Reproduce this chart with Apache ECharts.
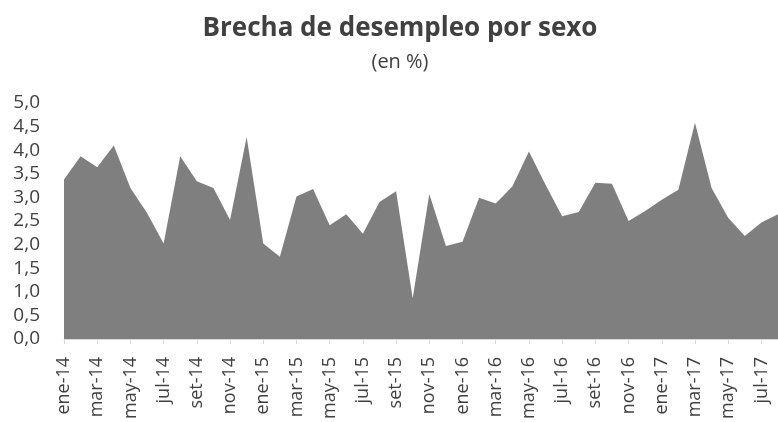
<!DOCTYPE html>
<html>
<head>
<meta charset="utf-8">
<script src="https://cdn.jsdelivr.net/npm/echarts@6/dist/echarts.min.js"></script>
<style>
  html, body { margin: 0; padding: 0; background: #fff; }
  #chart { width: 778px; height: 422px; }
</style>
</head>
<body>
<div id="chart"></div>
<script>
// meses ene-14 .. ago-17
const months = [
  'ene-14', 'feb-14', 'mar-14', 'abr-14', 'may-14', 'jun-14', 'jul-14', 'ago-14', 'set-14', 'oct-14', 'nov-14', 'dic-14',
  'ene-15', 'feb-15', 'mar-15', 'abr-15', 'may-15', 'jun-15', 'jul-15', 'ago-15', 'set-15', 'oct-15', 'nov-15', 'dic-15',
  'ene-16', 'feb-16', 'mar-16', 'abr-16', 'may-16', 'jun-16', 'jul-16', 'ago-16', 'set-16', 'oct-16', 'nov-16', 'dic-16',
  'ene-17', 'feb-17', 'mar-17', 'abr-17', 'may-17', 'jun-17', 'jul-17', 'ago-17'
];

// brecha de desempleo (en %)
const gap = [
  3.38, 3.87, 3.64, 4.10, 3.20, 2.67, 2.02, 3.87, 3.34, 3.20, 2.52, 4.28,
  2.02, 1.74, 3.02, 3.18, 2.41, 2.64, 2.23, 2.90, 3.13, 0.86, 3.07, 1.97,
  2.06, 2.99, 2.87, 3.23, 3.97, 3.27, 2.60, 2.69, 3.31, 3.29, 2.50, 2.71,
  2.95, 3.16, 4.58, 3.20, 2.57, 2.18, 2.47, 2.64
];

const chart = echarts.init(document.getElementById('chart'));
const font = '"Open Sans", sans-serif';

chart.setOption({
  animation: false,
  textStyle: { fontFamily: font },
  graphic: [
    {
      type: 'text', x: 400, y: 29,
      style: {
        text: 'Brecha de desempleo por sexo', fontFamily: font, fontSize: 26, fontWeight: 'bold',
        fill: '#404040', align: 'center', verticalAlign: 'middle'
      }
    },
    {
      type: 'text', x: 400, y: 62,
      style: {
        text: '(en %)', fontFamily: font, fontSize: 20, fill: '#404040',
        align: 'center', verticalAlign: 'middle'
      }
    }
  ],
  grid: { left: 64, right: -4, top: 103, bottom: 82, containLabel: false },
  xAxis: {
    type: 'category',
    data: months,
    boundaryGap: false,
    axisLine: { lineStyle: { color: '#d9d9d9', width: 1 } },
    axisTick: { interval: 1, length: 5, lineStyle: { color: '#d9d9d9' } },
    axisLabel: { interval: 1, rotate: 90, margin: 18, fontSize: 18, color: '#404040', fontFamily: font }
  },
  yAxis: {
    type: 'value',
    min: 0, max: 5, interval: 0.5,
    splitLine: { show: false },
    axisLine: { show: false },
    axisTick: { show: false },
    axisLabel: {
      margin: 24, fontSize: 19, color: '#404040', fontFamily: font,
      formatter: (v) => v.toFixed(1).replace('.', ',')
    }
  },
  series: [
    {
      type: 'line',
      data: gap,
      symbol: 'none',
      lineStyle: { width: 0 },
      areaStyle: { color: '#7f7f7f', opacity: 1 }
    }
  ]
});
</script>
</body>
</html>
